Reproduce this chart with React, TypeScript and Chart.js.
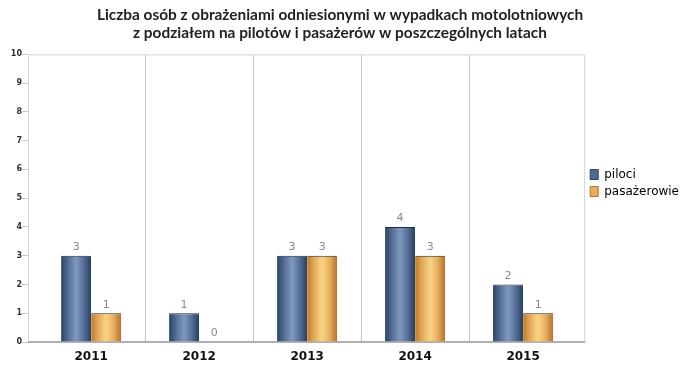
import React, { useEffect, useRef } from "react";
import { Chart, registerables } from "chart.js";

Chart.register(...registerables);

const categories = ["2011", "2012", "2013", "2014", "2015"];
const piloci = [3, 1, 3, 4, 2];
const pasazerowie = [1, 0, 3, 3, 1];
const seriesNames = ["piloci", "pasażerowie"];
const yTicks = [0, 1, 2, 3, 4, 5, 6, 7, 8, 9, 10];
const titleLines = [
  "Liczba osób z obrażeniami odniesionymi w wypadkach motolotniowych",
  "z podziałem na pilotów i pasażerów w poszczególnych latach",
];

const CAT_PCT = 0.557;
const BLUE_STOPS = ["#2a4265", "#577197", "#7f98bc", "#57709a", "#263d5f"];
const ORANGE_STOPS = ["#c07a2c", "#e6ad5c", "#f9d487", "#e7ad5d", "#b3722b"];

function barGradient(ctx: any, stops: string[], side: number, solid: string) {
  const chart = ctx.chart;
  const xs = chart.scales && chart.scales.x;
  if (!xs || !chart.chartArea || !ctx.raw) return solid;
  const center = xs.getPixelForValue(ctx.raw.x);
  const w = (xs.getPixelForValue(1) - xs.getPixelForValue(0)) * CAT_PCT / 2;
  const left = side === 0 ? center - w : center;
  const g = chart.ctx.createLinearGradient(left, 0, left + w, 0);
  stops.forEach((c, i) => g.addColorStop(i / (stops.length - 1), c));
  return g;
}

const valueLabels = {
  id: "valueLabels",
  afterDatasetsDraw(chart: any) {
    const c = chart.ctx;
    c.save();
    c.font = "11px 'DejaVu Sans'";
    c.fillStyle = "#8a8a8a";
    c.textAlign = "center";
    c.textBaseline = "bottom";
    chart.data.datasets.forEach((ds: any, di: number) => {
      const meta = chart.getDatasetMeta(di);
      meta.data.forEach((el: any, i: number) => {
        c.fillText(String(ds.data[i].y), el.x, el.y - 3);
      });
    });
    c.restore();
  },
};

const frame = {
  id: "frame",
  beforeDatasetsDraw(chart: any) {
    const a = chart.chartArea;
    const c = chart.ctx;
    c.save();
    c.strokeStyle = "#d4d4d4";
    c.lineWidth = 1;
    c.beginPath();
    c.moveTo(a.left + 0.5, a.bottom);
    c.lineTo(a.left + 0.5, a.top + 0.5);
    c.lineTo(a.right - 0.5, a.top + 0.5);
    c.lineTo(a.right - 0.5, a.bottom);
    c.stroke();
    c.strokeStyle = "#b0b0b0";
    c.lineWidth = 2;
    c.beginPath();
    c.moveTo(a.left, a.bottom);
    c.lineTo(a.right, a.bottom);
    c.stroke();
    c.restore();
  },
};

export default function App() {
  const ref = useRef<HTMLCanvasElement>(null);
  useEffect(() => {
    if (!ref.current) return;
    const chart = new Chart(ref.current, {
      type: "bar",
      data: {
        datasets: [
          {
            label: seriesNames[0],
            data: piloci.map((v, i) => ({ x: i, y: v })),
            backgroundColor: (ctx: any) => barGradient(ctx, BLUE_STOPS, 0, "#4d6a93"),
            borderColor: "#1e2c40",
            borderWidth: { top: 1, left: 0, right: 0, bottom: 0 },
            borderSkipped: "bottom",
            categoryPercentage: CAT_PCT,
            barPercentage: 1,
          },
          {
            label: seriesNames[1],
            data: pasazerowie.map((v, i) => ({ x: i, y: v })),
            backgroundColor: (ctx: any) => barGradient(ctx, ORANGE_STOPS, 1, "#e5a85a"),
            borderColor: "#2a2010",
            borderWidth: { top: 1, left: 0, right: 0, bottom: 0 },
            borderSkipped: "bottom",
            categoryPercentage: CAT_PCT,
            barPercentage: 1,
          },
        ] as any,
      },
      options: {
        animation: false,
        responsive: true,
        maintainAspectRatio: false,
        layout: { padding: { left: -9, right: -8, top: 0, bottom: 0 } },
        plugins: {
          title: {
            display: true,
            text: titleLines,
            color: "#222",
            font: { family: "Lato", size: 15.4, weight: "bold", lineHeight: 1.18 },
            padding: { top: 6, bottom: 12 },
          },
          legend: {
            position: "right",
            align: "center",
            labels: {
              color: "#444",
              font: { family: "DejaVu Sans", size: 12 },
              boxWidth: 8,
              boxHeight: 10,
              padding: 5,
              generateLabels: () =>
                seriesNames.map((n, i) => ({
                  text: n,
                  fillStyle: i === 0 ? "#4d6a93" : "#e9ad5f",
                  strokeStyle: i === 0 ? "#2b4366" : "#b3722b",
                  lineWidth: 1,
                  datasetIndex: i,
                  hidden: false,
                })),
            },
          },
          tooltip: { enabled: false },
        },
        scales: {
          x: {
            type: "linear",
            offset: false,
            min: -0.585,
            max: 4.575,
            afterBuildTicks: (s: any) => {
              s.ticks = categories.map((_, i) => ({ value: i }));
            },
            afterFit: (s: any) => {
              s.height = 24;
            },
            ticks: {
              callback: (v: any) => categories[v as number] ?? "",
              color: "#111",
              font: { family: "DejaVu Sans", size: 12, weight: "bold" },
              padding: 0,
              maxRotation: 0,
              autoSkip: false,
            },
            grid: { display: false, offset: false },
            border: { display: false },
          },
          xg: {
            type: "linear",
            position: "bottom",
            offset: false,
            display: true,
            min: -0.585,
            max: 4.575,
            afterBuildTicks: (s: any) => {
              s.ticks = categories.slice(1).map((_, i) => ({ value: i + 0.5 }));
            },
            afterFit: (s: any) => {
              s.height = 0;
            },
            ticks: { display: false },
            grid: { color: "#c4c4c4", lineWidth: 1, offset: false, drawTicks: true, tickLength: 4 },
            border: { display: false },
          },
          y: {
            min: 0,
            max: 10,
            afterBuildTicks: (s: any) => {
              s.ticks = yTicks.map((v) => ({ value: v }));
            },
            afterFit: (s: any) => {
              s.width = 37;
            },
            ticks: {
              color: "#333",
              font: { family: "DejaVu Sans", size: 8, weight: "bold" },
              padding: 0,
            },
            grid: { drawOnChartArea: false, color: "#c8c8c8", tickLength: 6 },
            border: { display: false },
          },
        } as any,
      },
      plugins: [frame, valueLabels],
    });
    return () => chart.destroy();
  }, []);
  return (
    <div style={{ position: "fixed", left: 0, top: 0, width: 681, height: 366, background: "#fff" }}>
      <canvas ref={ref} />
    </div>
  );
}
